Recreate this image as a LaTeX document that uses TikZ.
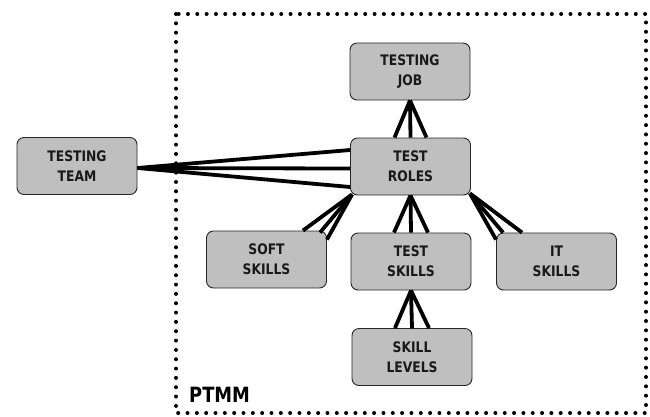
\documentclass[tikz,border=0pt]{standalone}
\usepackage{fontspec}
\setmainfont{DejaVu Sans}[FakeStretch=0.85]
\begin{document}
\begin{tikzpicture}[x=1pt,y=-1pt,
  box/.style={draw=black!85, line width=0.9pt, fill=black!25, rounded corners=7pt,
    minimum width=120pt, minimum height=57pt, align=center, inner sep=0pt,
    font=\fontsize{14.5}{20}\selectfont\bfseries, text=black!90},
  link/.style={line width=3.8pt},
  frame/.style={line width=4pt, line cap=round, dash pattern=on 0pt off 9.33pt}]
\useasboundingbox (0,0) rectangle (650,416);
\draw[frame] (176,14) rectangle (646,413);
\node[box] (job) at (410,71.5) {TESTING\\JOB};
\node[box] (roles) at (410.5,166.5) {TEST\\ROLES};
\node[box] (team) at (77,166) {TESTING\\TEAM};
\node[box] (soft) at (266.5,259.5) {SOFT\\SKILLS};
\node[box] (tskills) at (411,261.5) {TEST\\SKILLS};
\node[box] (it) at (556.5,261.5) {IT\\SKILLS};
\node[box] (levels) at (412,357) {SKILL\\LEVELS};
\node[anchor=base west, inner sep=0pt, font=\fontsize{21}{24}\selectfont\bfseries] (ptmm) at (189,402) {PTMM};
% team -> roles
\draw[link] ([yshift=-2pt]team.east) -- ([yshift=16.5pt]roles.west);
\draw[link] ([yshift=-2pt]team.east) -- ([yshift=-2pt]roles.west);
\draw[link] ([yshift=-2pt]team.east) -- ([yshift=-20.5pt]roles.west);
% job -> roles
\draw[link] (job.south) -- ([xshift=-16pt]roles.north);
\draw[link] (job.south) -- (roles.north);
\draw[link] (job.south) -- ([xshift=16pt]roles.north);
% roles -> soft
\draw[link] ([xshift=2pt,yshift=1pt]roles.south west) -- ([xshift=-24pt]soft.north east);
\draw[link] ([xshift=2pt,yshift=1pt]roles.south west) -- ([xshift=-7pt,yshift=-2pt]soft.north east);
\draw[link] ([xshift=2pt,yshift=1pt]roles.south west) -- ([yshift=-9pt]soft.north east);
% roles -> test skills
\draw[link] (roles.south) -- ([xshift=-17pt]tskills.north);
\draw[link] (roles.south) -- (tskills.north);
\draw[link] (roles.south) -- ([xshift=17pt]tskills.north);
% roles -> it
\draw[link] ([xshift=-1pt,yshift=2pt]roles.south east) -- ([yshift=-7pt]it.north west);
\draw[link] ([xshift=-1pt,yshift=2pt]roles.south east) -- ([xshift=7pt]it.north west);
\draw[link] ([xshift=-1pt,yshift=2pt]roles.south east) -- ([xshift=26pt]it.north west);
% test skills -> levels
\draw[link] (tskills.south) -- ([xshift=-17pt]levels.north);
\draw[link] (tskills.south) -- (levels.north);
\draw[link] (tskills.south) -- ([xshift=17pt]levels.north);
\end{tikzpicture}
\end{document}
